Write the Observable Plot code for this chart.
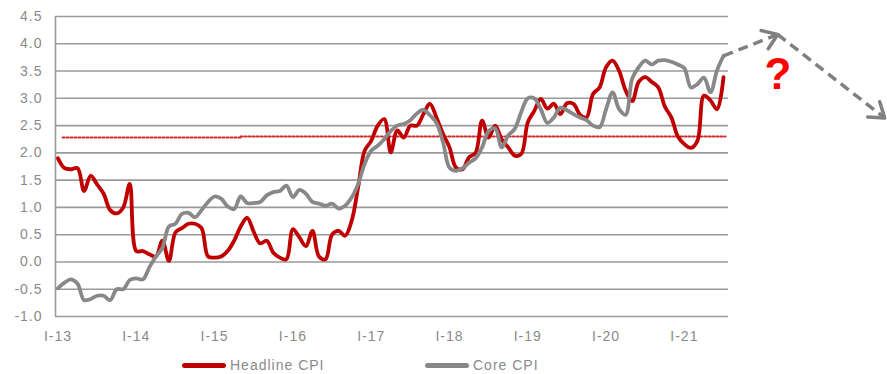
<!DOCTYPE html>
<html>
<head>
<meta charset="utf-8">
<script src="https://cdn.jsdelivr.net/npm/d3@7"></script>
<script src="https://cdn.jsdelivr.net/npm/@observablehq/plot@0.6"></script>
<style>
  html, body { margin: 0; padding: 0; background: #fff; }
  body { width: 887px; font-family: "Liberation Sans", Arial, sans-serif; }
  #chart svg text { letter-spacing: 1px; }
  .legend { position: relative; height: 12px; margin-top: 9px; font-size: 14px; line-height: 12px; letter-spacing: 1px; color: #8a8a8a; }
  .legend .item { position: absolute; top: 0; height: 12px; display: flex; align-items: center; white-space: nowrap; }
  .legend .sw { display: inline-block; width: 44px; height: 5px; border-radius: 3px; margin-right: 4px; }
</style>
</head>
<body>
<div id="chart"></div>
<div class="legend" id="legend"></div>
<script>
// Months since January 2013 (0 = Jan 2013 ... 102 = Jul 2021)
const seriesNames = ["Headline CPI", "Core CPI"];
const seriesColors = ["#c00000", "#888888"];

const headlineCPI = [
  1.90, 1.72, 1.70, 1.72, 1.30, 1.58, 1.42, 1.25, 0.95, 0.89, 1.00, 1.43,
  0.20, 0.20, 0.14, 0.10, 0.39, 0.02, 0.54, 0.62, 0.70, 0.70, 0.62, 0.10,
  0.08, 0.10, 0.20, 0.39, 0.65, 0.81, 0.55, 0.34, 0.39, 0.17, 0.08, 0.05,
  0.60, 0.45, 0.29, 0.57, 0.10, 0.05, 0.50, 0.57, 0.48, 0.75, 1.37, 2.04,
  2.22, 2.50, 2.62, 2.01, 2.41, 2.28, 2.50, 2.50, 2.71, 2.90, 2.65, 2.35,
  2.10, 1.73, 1.70, 1.92, 2.00, 2.59, 2.28, 2.50, 2.25, 2.10, 1.95, 1.98,
  2.56, 2.77, 2.99, 2.81, 2.90, 2.71, 2.91, 2.90, 2.70, 2.65, 3.08, 3.20,
  3.57, 3.69, 3.50, 3.14, 2.95, 3.30, 3.39, 3.30, 3.20, 2.85, 2.65, 2.30,
  2.16, 2.09, 2.22, 3.05, 2.96, 2.80, 3.39
];

const coreCPI = [
  -0.48, -0.38, -0.32, -0.40, -0.70, -0.68, -0.62, -0.62, -0.70, -0.50, -0.50, -0.33,
  -0.30, -0.32, -0.10, 0.10, 0.26, 0.65, 0.70, 0.88, 0.90, 0.82, 0.95, 1.10,
  1.20, 1.16, 1.02, 0.97, 1.20, 1.08, 1.08, 1.10, 1.22, 1.28, 1.30, 1.40,
  1.19, 1.32, 1.25, 1.10, 1.07, 1.03, 1.07, 0.98, 1.03, 1.18, 1.43, 1.80,
  2.04, 2.13, 2.25, 2.40, 2.50, 2.53, 2.60, 2.72, 2.79, 2.69, 2.55, 2.20,
  1.73, 1.67, 1.72, 1.82, 1.90, 2.10, 2.40, 2.45, 2.10, 2.32, 2.44, 2.75,
  3.00, 3.00, 2.80, 2.55, 2.65, 2.83, 2.78, 2.71, 2.65, 2.60, 2.50, 2.47,
  2.80, 3.11, 2.80, 2.70, 3.36, 3.57, 3.69, 3.62, 3.69, 3.70, 3.67, 3.62,
  3.55, 3.20, 3.26, 3.38, 3.11, 3.51, 3.78
];

// Inflation target (dotted red line)
const targetMonths = [0.7, 28, 28, 102.3];
const targetValues = [2.28, 2.28, 2.30, 2.30];
const targetPart = [0, 0, 1, 1];

// Speculative dashed arrows after the last observation
const arrowMonths = [102, 110.3, 126.7];
const arrowValues = [3.78, 4.17, 2.64];

const questionMark = { text: "?", month: 110.4, value: 3.43 };

const xTickMonths = [0, 12, 24, 36, 48, 60, 72, 84, 96];
const xTickLabels = ["I-13", "I-14", "I-15", "I-16", "I-17", "I-18", "I-19", "I-20", "I-21"];
const yTicks = [-1, -0.5, 0, 0.5, 1, 1.5, 2, 2.5, 3, 3.5, 4, 4.5];

const xDomain = [-0.383, 127.13];
const yDomain = [-1, 4.5];
const plotEnd = 102.76;

const W = 887, H = 350, ML = 55, MR = 0, MT = 16, MB = 34;

const rows = [];
headlineCPI.forEach((v, i) => rows.push({ m: i, v, s: seriesNames[0] }));
coreCPI.forEach((v, i) => rows.push({ m: i, v, s: seriesNames[1] }));
const target = targetMonths.map((m, i) => ({ m, v: targetValues[i], p: targetPart[i] }));
const segs = [];
for (let i = 0; i < arrowMonths.length - 1; i++) {
  segs.push({ m1: arrowMonths[i], v1: arrowValues[i], m2: arrowMonths[i + 1], v2: arrowValues[i + 1] });
}
// Same scales as the chart, used only to orient the arrow heads
const sx = Plot.scale({ x: { domain: xDomain, range: [ML, W - MR] } });
const sy = Plot.scale({ y: { domain: yDomain, range: [H - MB, MT] } });
const heads = segs.map(s => {
  const dx = sx.apply(s.m2) - sx.apply(s.m1);
  const dy = sy.apply(s.v2) - sy.apply(s.v1);
  return { m: s.m2, v: s.v2, r: Math.atan2(dx, -dy) * 180 / Math.PI };
});
const chevron = {
  draw(context) {
    const a = 35 * Math.PI / 180, L = 17;
    context.moveTo(-Math.sin(a) * L, Math.cos(a) * L);
    context.lineTo(0, 0);
    context.lineTo(Math.sin(a) * L, Math.cos(a) * L);
  }
};

const chart = Plot.plot({
  width: W,
  height: H,
  marginLeft: ML,
  marginRight: MR,
  marginTop: MT,
  marginBottom: MB,
  style: { fontFamily: "'Liberation Sans', Arial, sans-serif", fontSize: "14px", color: "#8a8a8a", overflow: "visible" },
  x: { domain: xDomain, axis: null },
  y: { domain: yDomain, axis: null },
  color: { domain: seriesNames, range: seriesColors },
  marks: [
    Plot.ruleY(yTicks, { x1: xDomain[0], x2: plotEnd, stroke: "#9a9a9a", strokeWidth: 1.6 }),
    Plot.ruleX([xDomain[0]], { y1: yDomain[0], y2: yDomain[1], stroke: "#9a9a9a", strokeWidth: 1.6 }),
    Plot.axisY({ ticks: yTicks, tickFormat: d => d.toFixed(1), tickSize: 0, tickPadding: 13, fill: "#8a8a8a", fontSize: 14 }),
    Plot.axisX({ ticks: xTickMonths, tickFormat: (d, i) => xTickLabels[i], tickSize: 0, tickPadding: 15, fill: "#8a8a8a", fontSize: 14 }),
    Plot.line(target, { x: "m", y: "v", z: "p", stroke: "#d42a2a", strokeWidth: 2, strokeDasharray: "2,2" }),
    Plot.line(rows, { x: "m", y: "v", z: "s", stroke: "s", strokeWidth: 3.8, curve: "catmull-rom", strokeLinejoin: "round" }),
    Plot.link(segs, { x1: "m1", y1: "v1", x2: "m2", y2: "v2", stroke: "#808080", strokeWidth: 3.5, strokeDasharray: "10,6" }),
    Plot.vector(heads, { x: "m", y: "v", rotate: "r", length: 1, anchor: "start", shape: chevron, stroke: "#808080", strokeWidth: 3.5, strokeLinecap: "round", strokeLinejoin: "round" }),
    Plot.text([questionMark], { x: "month", y: "value", text: "text", fill: "#ff0000", fontSize: 44, fontWeight: "bold" })
  ]
});
document.getElementById("chart").appendChild(chart);

const legend = document.getElementById("legend");
const legendX = [182, 425];
seriesNames.forEach((name, i) => {
  const item = document.createElement("div");
  item.className = "item";
  item.style.left = legendX[i] + "px";
  item.innerHTML = `<span class="sw" style="background:${seriesColors[i]}"></span><span>${name}</span>`;
  legend.appendChild(item);
});
</script>
</body>
</html>
